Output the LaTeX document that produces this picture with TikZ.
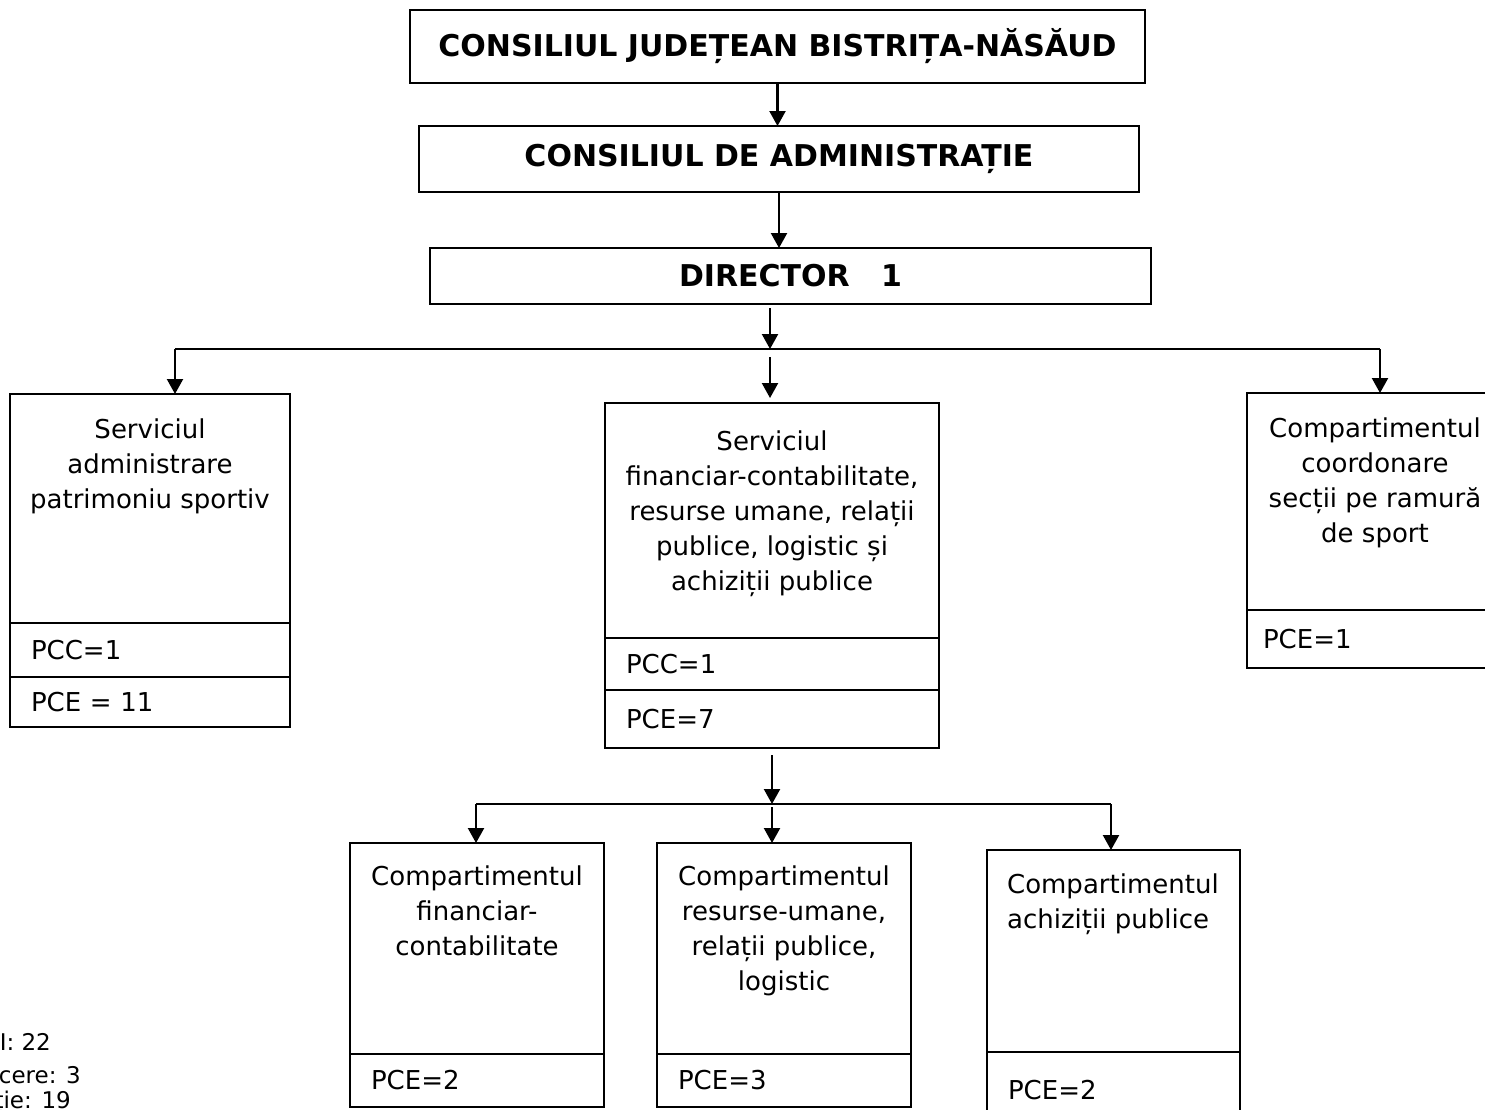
\documentclass[tikz,border=0pt]{standalone}
\usepackage{fontspec}
\setmainfont{DejaVu Sans}
\usetikzlibrary{positioning,arrows.meta}

\begin{document}
\begin{tikzpicture}[x=1pt,y=-1pt,line width=2.2pt,
  titlu/.style={draw,inner sep=0pt,outer sep=0pt,font=\fontsize{30}{36}\selectfont\bfseries},
  cutie/.style={draw,inner sep=0pt,outer sep=0pt,anchor=north west},
  eticheta/.style={inner sep=0pt,align=center,font=\fontsize{26}{35}\selectfont},
  rand/.style={draw,anchor=north,outer sep=0pt,inner xsep=21pt,inner ysep=0pt,align=left,font=\fontsize{26}{32}\selectfont},
  sageata/.style={-{Triangle[length=15pt,width=16pt]}},
  nota/.style={inner sep=0pt,anchor=base east,font=\fontsize{23}{28}\selectfont}]
\useasboundingbox (0,0) rectangle (1485,1109);

\node[titlu,minimum width=735pt,minimum height=73pt] (cjbn) at (777.5,46.5) {CONSILIUL JUDEȚEAN BISTRIȚA-NĂSĂUD};
\node[titlu,minimum width=720pt,minimum height=66pt] (cda) at (779,159) {CONSILIUL DE ADMINISTRAȚIE};
\node[titlu,minimum width=721pt,minimum height=56pt] (dir) at (790.5,276) {DIRECTOR\ \ \ 1};

\node[cutie,minimum width=280pt,minimum height=229pt] (adm) at (10,394) {};
\node[eticheta,below=24pt of adm.north] (adm-t) {Serviciul\\administrare\\patrimoniu sportiv};
\node[rand,text width=238pt,minimum height=54pt] (adm-c) at (adm.south) {PCC=1};
\node[rand,text width=238pt,minimum height=50pt] (adm-e) at (adm-c.south) {PCE = 11};

\node[cutie,minimum width=334pt,minimum height=235pt] (svc) at (605,403) {};
\node[eticheta,below=27pt of svc.north] (svc-t) {Serviciul\\financiar-contabilitate,\\resurse umane, relații\\publice, logistic și\\achiziții publice};
\node[rand,text width=292pt,minimum height=52pt] (svc-c) at (svc.south) {PCC=1};
\node[rand,text width=292pt,minimum height=58pt] (svc-e) at (svc-c.south) {PCE=7};

\node[cutie,minimum width=256pt,minimum height=217pt] (crd) at (1247,393) {};
\node[eticheta,below=24pt of crd.north] (crd-t) {Compartimentul\\coordonare\\secții pe ramură\\de sport};
\node[rand,inner xsep=16pt,text width=224pt,minimum height=58pt] (crd-e) at (crd.south) {PCE=1};

\node[cutie,minimum width=254pt,minimum height=211pt] (cfc) at (350,843) {};
\node[eticheta,below=22pt of cfc.north] (cfc-t) {Compartimentul\\financiar-\\contabilitate};
\node[rand,text width=212pt,minimum height=53pt] (cfc-e) at (cfc.south) {PCE=2};

\node[cutie,minimum width=254pt,minimum height=211pt] (cru) at (657,843) {};
\node[eticheta,below=22pt of cru.north] (cru-t) {Compartimentul\\resurse-umane,\\relații publice,\\logistic};
\node[rand,text width=212pt,minimum height=53pt] (cru-e) at (cru.south) {PCE=3};

\node[cutie,minimum width=253pt,minimum height=202pt] (cap) at (987,850) {};
\node[eticheta,align=left,below right=23pt and 19pt of cap.north west] (cap-t) {Compartimentul\\achiziții publice};
\node[rand,text width=211pt,minimum height=76pt] (cap-e) at (cap.south) {PCE=2};

\node[nota] (tot) at (52,1050) {I: 22};
\node[nota] (con) at (82,1083) {cere: 3};
\node[nota] (exe) at (72,1108) {ție: 19};

\coordinate (bus1-l) at (175,349);
\coordinate (bus1-m) at (770,349);
\coordinate (bus1-r) at (1380,349);
\coordinate (bus2-l) at (476,804);
\coordinate (bus2-m) at (772,804);
\coordinate (bus2-r) at (1111,804);

\draw[sageata] (cjbn.south) -- (cjbn.south |- cda.north);
\draw[sageata] (cda.south) -- (cda.south |- dir.north);
\draw[sageata,shorten <=4pt] (dir.south -| bus1-m) -- (bus1-m);
\draw (bus1-l) -- (bus1-r);
\draw[sageata] (bus1-l) -- (bus1-l |- adm.north);
\draw[sageata,shorten <=8pt,shorten >=5pt] (bus1-m) -- (bus1-m |- svc.north);
\draw[sageata] (bus1-r) -- (bus1-r |- crd.north);

\draw[sageata,shorten <=7pt] (svc-e.south) -- (bus2-m);
\draw (bus2-l) -- (bus2-r);
\draw[sageata] (bus2-l) -- (bus2-l |- cfc.north);
\draw[sageata,shorten <=3pt] (bus2-m) -- (bus2-m |- cru.north);
\draw[sageata] (bus2-r) -- (bus2-r |- cap.north);
\end{tikzpicture}
\end{document}
